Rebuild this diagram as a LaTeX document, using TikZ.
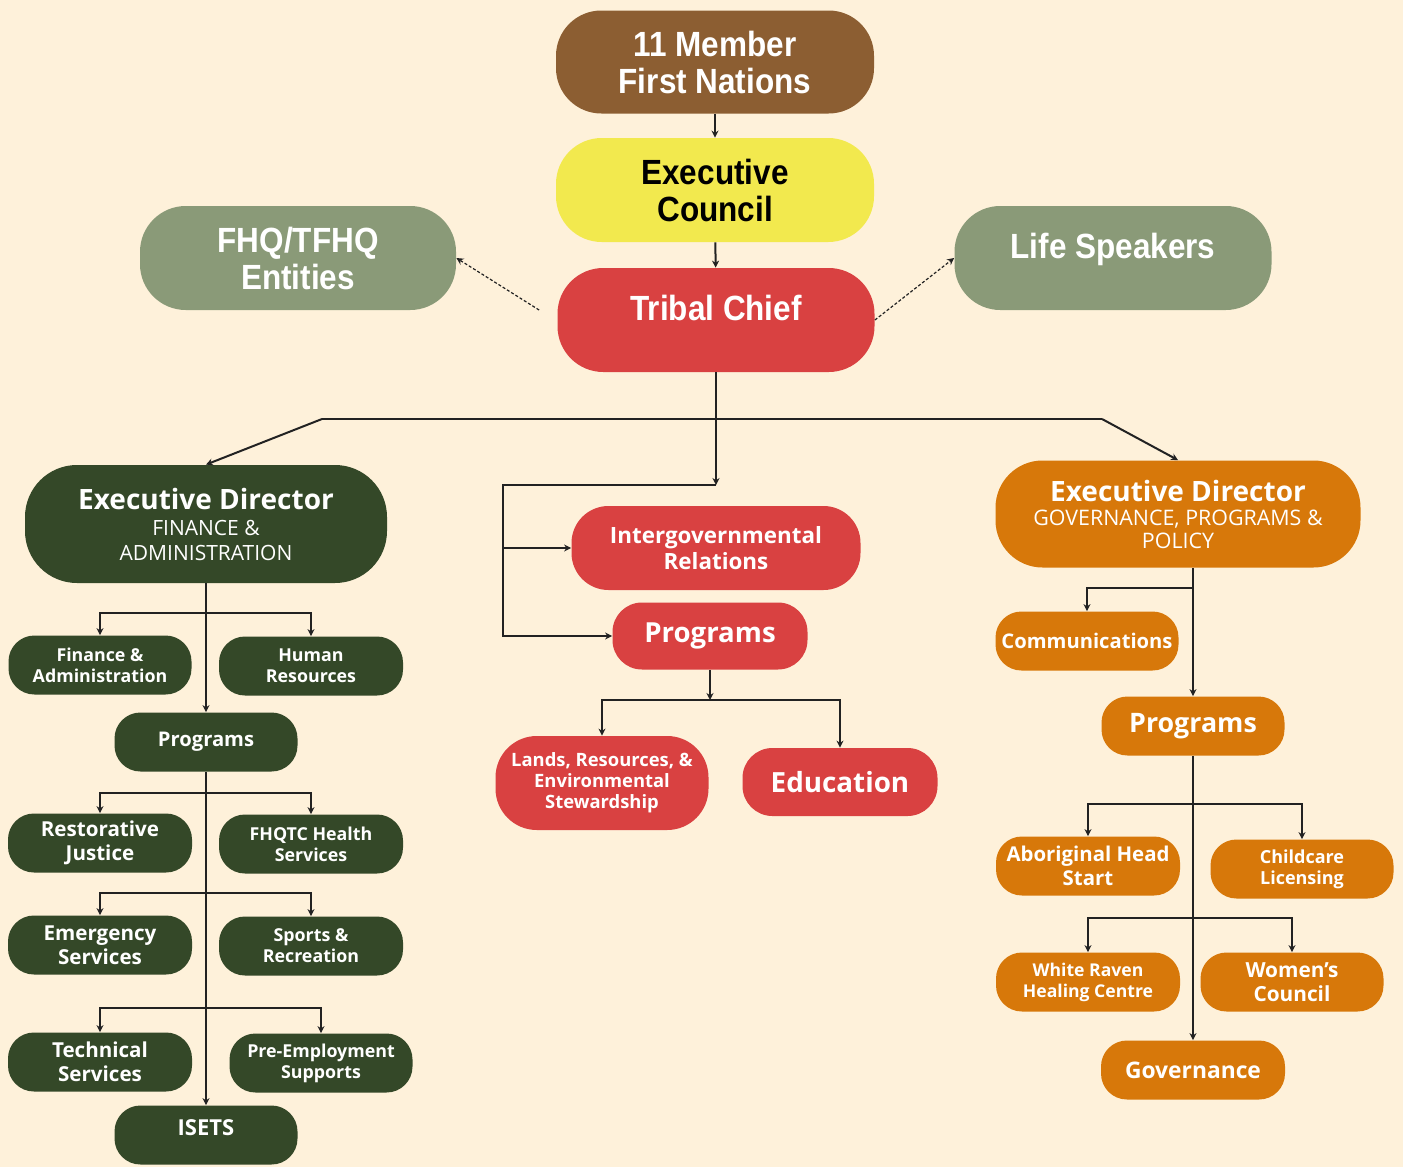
\documentclass[tikz,border=0pt]{standalone}
\usepackage{fontspec}
\setmainfont{Open Sans}
\newfontfamily\cond[FakeStretch=0.9]{Liberation Sans}
\usetikzlibrary{arrows.meta}
\definecolor{bg}{HTML}{FEF1DA}
\definecolor{brown}{HTML}{8C5E32}
\definecolor{yel}{HTML}{F2E94E}
\definecolor{red}{HTML}{D94141}
\definecolor{sage}{HTML}{8A9A78}
\definecolor{dkgreen}{HTML}{344828}
\definecolor{orng}{HTML}{D7780A}
\definecolor{line}{HTML}{222222}
\tikzset{
  sz/.style 2 args={minimum width=#1*0.5pt, minimum height=#2*0.5pt, rounded corners=#2*0.22pt},
  fs/.style 2 args={font=\fontsize{#1}{#2}\selectfont\bfseries},
  box/.style={draw=none, inner sep=0pt, align=center, text=white},
  topbox/.style={box, font=\cond\fontsize{17.5}{18.5}\selectfont\bfseries},
  arr/.style={draw=line, line width=1pt, -{Stealth[length=3.5pt,width=3.5pt]}},
  ln/.style={draw=line, line width=1pt},
  dotarr/.style={draw=line, line width=0.6pt, dash pattern=on 1.5pt off 1pt, -{Stealth[length=3.5pt,width=3.5pt]}},
}
\begin{document}
\begin{tikzpicture}[x=0.5pt,y=-0.5pt]
\fill[bg] (0,0) rectangle (1403,1167);
\useasboundingbox (0,0) rectangle (1403,1167);
% top
\node[topbox, fill=brown, sz={318}{103}] (member) at (715,62) {11 Member\\First Nations};
\node[topbox, fill=yel, text=black, sz={318}{104}] (council) at (715,190) {Executive\\Council};
\node[topbox, fill=red, sz={317}{104}] (chief) at (716,320) {\raisebox{0pt}[0pt][0pt]{Tribal Chief}};
\node[topbox, fill=sage, sz={316}{104}] (fhq) at (298,258) {FHQ/TFHQ\\Entities};
\node[topbox, fill=sage, sz={317}{104}] (life) at (1113,258) {\raisebox{0pt}[0pt][0pt]{Life Speakers}};
% left column
\node[box, fill=dkgreen, sz={362}{118}, font=\fontsize{14}{14}\selectfont\bfseries] (edl) at (206,524) {Executive Director\\[-1pt]\fontsize{10.5}{11.5}\selectfont\mdseries FINANCE \&\\[-1.5pt]\fontsize{10.5}{11.5}\selectfont\mdseries ADMINISTRATION};
\node[box, fill=dkgreen, sz={183}{59}, fs={8.9}{10.5}] (fa) at (100,665) {Finance \&\\Administration};
\node[box, fill=dkgreen, sz={184}{59}, fs={8.9}{10.5}] (hr) at (311,666) {Human\\Resources};
\node[box, fill=dkgreen, sz={183}{59}, fs={10.1}{12}] (pgl) at (206,742) {Programs};
\node[box, fill=dkgreen, sz={184}{59}, fs={10.3}{12}] (rj) at (100,843) {Restorative\\Justice};
\node[box, fill=dkgreen, sz={184}{59}, fs={8.9}{10.5}] (fh) at (311,844) {FHQTC Health\\Services};
\node[box, fill=dkgreen, sz={184}{59}, fs={10.3}{12}] (es) at (100,945) {Emergency\\Services};
\node[box, fill=dkgreen, sz={184}{59}, fs={8.9}{10.5}] (sr) at (311,946) {Sports \&\\Recreation};
\node[box, fill=dkgreen, sz={184}{59}, fs={10.3}{12}] (ts) at (100,1062) {Technical\\Services};
\node[box, fill=dkgreen, sz={183}{59}, fs={8.9}{10.5}] (pe) at (321,1063) {Pre-Employment\\Supports};
\node[box, fill=dkgreen, sz={183}{59}, fs={11}{12}] (isets) at (206,1135) {\raisebox{0pt}[0pt][0pt]{ISETS}};
% middle
\node[box, fill=red, sz={289}{84}, fs={11.2}{13}] (igr) at (716,548) {Intergovernmental\\Relations};
\node[box, fill=red, sz={195}{67}, fs={13.8}{14}] (pgm) at (710,636) {Programs};
\node[box, fill=red, sz={213}{94}, fs={9.2}{10.5}] (lands) at (602,783) {Lands, Resources, \&\\Environmental\\Stewardship};
\node[box, fill=red, sz={195}{68}, fs={13.9}{14}] (edu) at (840,782) {Education};
% right column
\node[box, fill=orng, sz={365}{107}, font=\fontsize{14}{14}\selectfont\bfseries] (edr) at (1178,514) {Executive Director\\[-2pt]\fontsize{10.7}{11.5}\selectfont\mdseries GOVERNANCE, PROGRAMS \&\\[-2.5pt]\fontsize{10.7}{11.5}\selectfont\mdseries POLICY};
\node[box, fill=orng, sz={183}{59}, fs={10.1}{12}] (comm) at (1087,641) {Communications};
\node[box, fill=orng, sz={183}{59}, fs={13.4}{14}] (pgr) at (1193,726) {Programs};
\node[box, fill=orng, sz={184}{59}, fs={10.2}{12}] (ahs) at (1088,866) {Aboriginal Head\\Start};
\node[box, fill=orng, sz={183}{59}, fs={9}{10.5}] (ccl) at (1302,869) {Childcare\\Licensing};
\node[box, fill=orng, sz={184}{59}, fs={8.8}{10.5}] (wr) at (1088,982) {White Raven\\Healing Centre};
\node[box, fill=orng, sz={183}{59}, fs={10.4}{12}] (wc) at (1292,982) {Women's\\Council};
\node[box, fill=orng, sz={184}{59}, fs={11.4}{12}] (gov) at (1193,1070) {Governance};
% connectors top
\draw[arr] (member) -- (council);
\draw[arr] (council) -- (chief);
\draw[dotarr] ([xshift=-9pt,yshift=5pt]chief.west) -- (fhq.east);
\draw[dotarr] (chief.east) -- (life.west);
% trunk
\coordinate (hub) at (716,419);
\coordinate (hubL) at (322,419);
\coordinate (hubR) at (1102,419);
\coordinate (mid) at (716,485);
\draw[ln] (chief.south) -- (hub);
\draw[ln] (hubL) -- (hubR);
\draw[arr] (hubL) -- (edl.north);
\draw[arr] (hubR) -- (edr.north);
\draw[arr] (hub) -- (mid);
\draw[arr] (mid) -- (503,485) |- (pgm.west);
\draw[arr] (503,548) -- (igr.west);
% left column connectors
\draw[arr] (edl.south) -- (pgl.north);
\draw[arr] (206,613) -| (fa.north);
\draw[arr] (206,613) -| (hr.north);
\draw[arr] (pgl.south) -- (isets.north);
\draw[arr] (206,793) -| (rj.north);
\draw[arr] (206,793) -| (fh.north);
\draw[arr] (206,893) -| (es.north);
\draw[arr] (206,893) -| (sr.north);
\draw[arr] (206,1008) -| (ts.north);
\draw[arr] (206,1008) -| (pe.north);
% middle connectors
\draw[arr] (pgm.south) -- (710,700);
\draw[arr] (710,700) -| (lands.north);
\draw[arr] (710,700) -| (edu.north);
% right connectors
\draw[arr] (edr.south -| pgr.north) -- (pgr.north);
\draw[arr] (1193,588) -| (comm.north);
\draw[arr] (pgr.south) -- (gov.north);
\draw[arr] (1193,804) -| (ahs.north);
\draw[arr] (1193,804) -| (ccl.north);
\draw[arr] (1193,918) -| (wr.north);
\draw[arr] (1193,918) -| (wc.north);
\end{tikzpicture}
\end{document}
